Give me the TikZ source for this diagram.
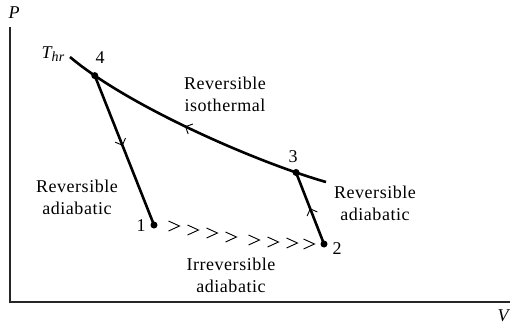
\documentclass[tikz,border=0pt]{standalone}
\usepackage{fontspec}
\setmainfont{Liberation Serif}[LetterSpace=3]
\usetikzlibrary{arrows.meta,decorations.markings}
\tikzset{
  axisline/.style={line width=2pt,draw=black!85},
  curveline/.style={line width=2.6pt,draw=black},
  statept/.style={circle,fill=black,inner sep=0pt,minimum size=7pt},
  lbl/.style={font=\fontsize{18}{22}\selectfont,align=center,inner sep=0pt},
  numlbl/.style={font=\fontsize{18}{22}\selectfont,inner sep=0pt},
  itlbl/.style={font=\fontsize{18}{22}\selectfont\itshape,inner sep=0pt},
  midarrow/.style={postaction={decorate,decoration={markings,
     mark=at position #1 with {\arrow{Straight Barb[length=5.5pt,width=11pt,line width=0.9pt]}}}}},
  midarrowrev/.style={postaction={decorate,decoration={markings,
     mark=at position #1 with {\arrowreversed{Straight Barb[length=5.5pt,width=11pt,line width=0.9pt]}}}}},
  chev/.style={line width=0.9pt,line join=miter}
}
\begin{document}
\begin{tikzpicture}[x=1pt,y=-1pt]
\useasboundingbox (0,0) rectangle (510,325);
% axes
\coordinate (O) at (9.5,302);
\coordinate (Ptop) at (9.5,27);
\coordinate (Vend) at (510,302);
\draw[axisline] (Ptop) -- (O) -- (Vend);
\node[itlbl] (Plbl) at (14,13) {P};
\node[itlbl] (Vlbl) at (503,316) {V};
% isotherm end points and state points on it
\coordinate (s) at (70,57);
\coordinate (e) at (326,182);
\path (s) .. controls (128,106) and (256,162) .. (e)
  coordinate[pos=0.125] (p4) coordinate[pos=0.87] (p3);
\coordinate (p1) at (154,225);
\coordinate (p2) at (324,244);
% isotherm
\draw[curveline,midarrowrev=0.47] (s) .. controls (128,106) and (256,162) .. (e);
% adiabats
\draw[curveline,midarrow=0.47] (p4) -- (p1);
\draw[curveline,midarrow=0.5] (p2) -- (p3);
\node[statept] (n4) at (p4) {};
\node[statept] (n3) at (p3) {};
\node[statept] (n1) at (p1) {};
\node[statept] (n2) at (p2) {};
% chevrons
\foreach \cx/\cy in {174/226,193/230,212/233,231/237,254/240,273/242,292/243,309/244}{
  \draw[chev] (\cx-5.5,\cy-5) -- (\cx+5.5,\cy) -- (\cx-5.5,\cy+5);
}
% labels
\node[itlbl] (Thr) at (53,54) {T\raisebox{-3.5pt}{\fontsize{14}{14}\selectfont hr}};
\node[numlbl] (l4) at (100,58) {4};
\node[numlbl] (l3) at (293,157) {3};
\node[numlbl] (l1) at (141,226) {1};
\node[numlbl] (l2) at (337,249) {2};
\node[lbl] (iso) at (225,94) {Reversible\\isothermal};
\node[lbl] (adL) at (77,197) {Reversible\\adiabatic};
\node[lbl] (adR) at (375,203) {Reversible\\adiabatic};
\node[lbl] (irr) at (231,275) {Irreversible\\adiabatic};
\end{tikzpicture}
\end{document}
